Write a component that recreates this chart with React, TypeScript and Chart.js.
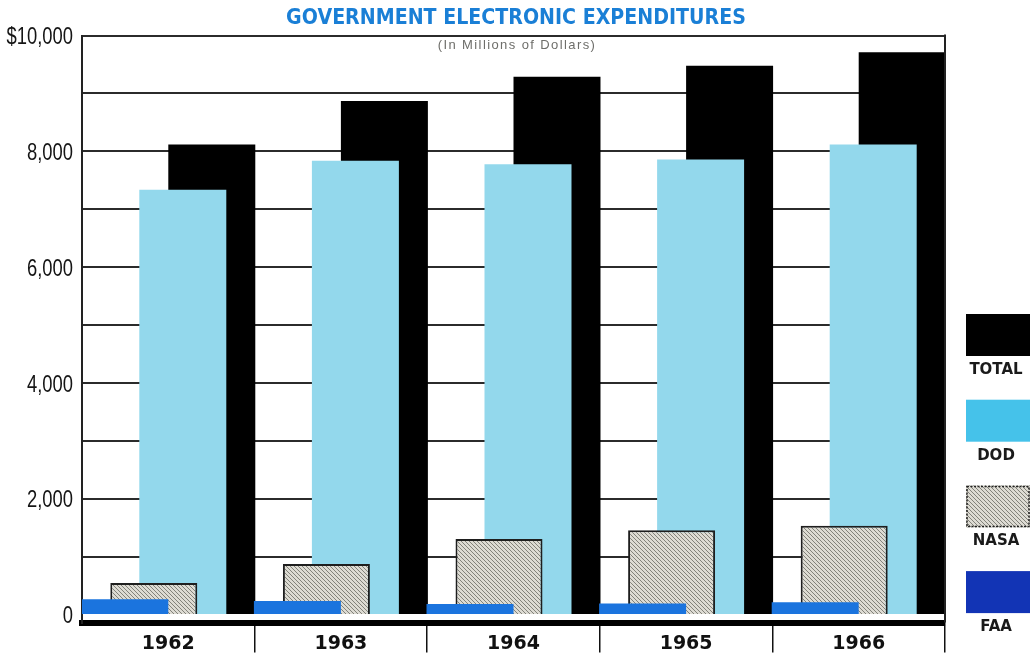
import { useEffect, useRef } from 'react';
import { Chart, registerables } from 'chart.js';

Chart.register(...registerables);

const years = ['1962', '1963', '1964', '1965', '1966'];
const totalValues = [8120, 8870, 9290, 9480, 9710];
const dodValues = [7340, 7840, 7780, 7860, 8120];
const nasaValues = [550, 880, 1310, 1460, 1540];
const faaValues = [270, 240, 190, 200, 220];
const gridValues = [0, 1000, 2000, 3000, 4000, 5000, 6000, 7000, 8000, 9000, 10000];
const labelledValues = [0, 2000, 4000, 6000, 8000, 10000];
const labelledTexts = ['0', '2,000', '4,000', '6,000', '8,000', '$10,000'];
const legendLabels = ['TOTAL', 'DOD', 'NASA', 'FAA'];

const TITLE = 'GOVERNMENT ELECTRONIC EXPENDITURES';
const SUBTITLE = '(In Millions of Dollars)';
const BOLDSANS = "'DejaVu Sans', 'Liberation Sans', sans-serif";

function makeHatch(): CanvasPattern | string {
  const c = document.createElement('canvas');
  c.width = 4;
  c.height = 4;
  const g = c.getContext('2d');
  if (!g) return '#cfcdc4';
  g.fillStyle = '#dddbd3';
  g.fillRect(0, 0, 4, 4);
  g.strokeStyle = '#77776f';
  g.lineWidth = 0.9;
  g.beginPath();
  g.moveTo(0, 0);
  g.lineTo(4, 4);
  g.moveTo(-1, 3);
  g.lineTo(1, 5);
  g.moveTo(3, -1);
  g.lineTo(5, 1);
  g.stroke();
  const p = g.createPattern(c, 'repeat');
  return p || '#cfcdc4';
}

export default function App() {
  const ref = useRef<HTMLCanvasElement | null>(null);

  useEffect(() => {
    const canvas = ref.current;
    if (!canvas) return;
    const hatch = makeHatch();
    const legendFills: (string | CanvasPattern)[] = ['#000000', '#45c2ea', hatch, '#1234b5'];

    const decor = {
      id: 'decor',
      afterDraw(chart: any) {
        const { ctx, chartArea } = chart;
        const yScale = chart.scales.y;
        ctx.save();
        // right frame line
        ctx.strokeStyle = '#222';
        ctx.lineWidth = 2;
        ctx.beginPath();
        ctx.moveTo(chartArea.right, chartArea.top - 1);
        ctx.lineTo(chartArea.right, chartArea.bottom);
        ctx.stroke();

        // title
        ctx.fillStyle = '#1a7fd6';
        ctx.font = "bold 22px 'DejaVu Sans', sans-serif";
        ctx.textAlign = 'center';
        ctx.textBaseline = 'middle';
        ctx.save();
        ctx.translate(516, 18);
        ctx.scale(0.865, 1);
        ctx.fillText(TITLE, 0, 0);
        ctx.restore();

        // subtitle
        ctx.fillStyle = '#6e6e6a';
        ctx.font = "13px 'Liberation Sans', sans-serif";
        (ctx as any).letterSpacing = '1.4px';
        ctx.textAlign = 'center';
        ctx.textBaseline = 'middle';
        ctx.fillText(SUBTITLE, 517, chartArea.top + 10);
        (ctx as any).letterSpacing = '0px';

        // y tick labels (condensed)
        ctx.fillStyle = '#151515';
        ctx.font = "23px 'Liberation Sans', sans-serif";
        ctx.textAlign = 'right';
        ctx.textBaseline = 'middle';
        labelledValues.forEach((v, i) => {
          const py = yScale.getPixelForValue(v) + 2;
          ctx.save();
          ctx.translate(chartArea.left - 9, py);
          ctx.scale(0.8, 1);
          ctx.fillText(labelledTexts[i], 0, 0);
          ctx.restore();
        });

        // legend
        const bx = chartArea.right + 21;
        const bw = chart.width - bx;
        const bh = 42;
        legendLabels.forEach((lab, i) => {
          const top = 314 + i * 85.7;
          ctx.fillStyle = legendFills[i];
          ctx.fillRect(bx, top, bw, bh);
          if (i === 2) {
            ctx.strokeStyle = '#222';
            ctx.lineWidth = 1.5;
            ctx.setLineDash([2, 1.5]);
            ctx.strokeRect(bx + 1, top + 1, bw - 2, bh - 2);
            ctx.setLineDash([]);
          }
          ctx.fillStyle = '#1a1a1a';
          ctx.font = `bold 15px ${BOLDSANS}`;
          ctx.textAlign = 'center';
          ctx.textBaseline = 'middle';
          ctx.fillText(lab, bx + 30, top + 56);
        });
        ctx.restore();
      },
    };

    const chart = new Chart(canvas, {
      type: 'bar',
      data: {
        labels: years,
        datasets: [
          { label: 'FAA', data: faaValues, backgroundColor: '#1b74de', borderWidth: 0 },
          { label: 'NASA', data: nasaValues, backgroundColor: hatch as any, borderColor: '#1e1e1e', borderWidth: 2 },
          { label: 'DOD', data: dodValues, backgroundColor: '#93d8ec', borderWidth: 0 },
          { label: 'TOTAL', data: totalValues, backgroundColor: '#000000', borderWidth: 0 },
        ],
      },
      options: {
        animation: false,
        responsive: false,
        maintainAspectRatio: false,
        datasets: { bar: { categoryPercentage: 0.672, barPercentage: 3.0 } },
        layout: { padding: { top: 35.5, right: 85, bottom: 0, left: 0 } },
        plugins: {
          legend: { display: false },
          tooltip: { enabled: false },
          title: { display: false },
        },
        scales: {
          x: {
            type: 'category',
            ticks: {
              color: '#111',
              font: { family: BOLDSANS, size: 19, weight: 'bold' },
              padding: -20,
              maxRotation: 0,
            },
            grid: {
              offset: true,
              drawOnChartArea: false,
              drawTicks: true,
              tickLength: 30,
              color: (c: any) => (c.index === 0 ? 'rgba(0,0,0,0)' : '#111'),
              lineWidth: 1.5,
            },
            border: { color: '#000', width: 6 },
            afterFit: (s: any) => {
              s.height = 32.5;
            },
          },
          y: {
            min: -130,
            max: 10000,
            afterBuildTicks: (s: any) => {
              s.ticks = gridValues.map((v) => ({ value: v }));
            },
            ticks: {
              display: false,
            },
            grid: {
              drawTicks: false,
              color: (c: any) => (c.tick && c.tick.value === 0 ? 'rgba(0,0,0,0)' : '#2b2b2b'),
              lineWidth: 2,
            },
            border: { color: '#222', width: 2 },
            afterFit: (s: any) => {
              s.width = 82;
            },
          },
        },
      },
      plugins: [decor],
    });

    return () => chart.destroy();
  }, []);

  return (
    <div style={{ position: 'absolute', left: 0, top: 0, width: 1030, height: 655, background: '#fff' }}>
      <canvas ref={ref} width={1030} height={655} style={{ display: 'block', width: 1030, height: 655 }} />
    </div>
  );
}
